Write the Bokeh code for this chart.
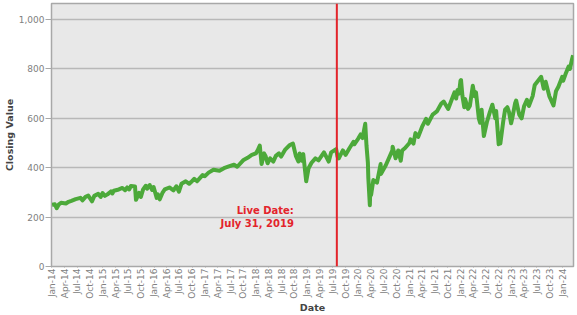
import math
import pandas as pd
from bokeh.plotting import figure
from bokeh.models import Range1d, FixedTicker, Span, Label, NumeralTickFormatter, DatetimeTickFormatter
from bokeh.embed import file_html
from bokeh.resources import INLINE

dates = [
    "2014-01-02", "2014-01-22", "2014-02-04", "2014-02-20", "2014-03-07", "2014-04-11", "2014-04-30",
    "2014-05-20", "2014-06-20", "2014-07-24", "2014-08-07", "2014-08-29", "2014-09-18", "2014-10-15",
    "2014-10-31", "2014-11-28", "2014-12-16", "2014-12-29",
    "2015-01-15", "2015-02-02", "2015-02-27", "2015-03-10", "2015-03-20", "2015-04-24", "2015-05-20",
    "2015-06-08", "2015-06-23", "2015-07-08", "2015-07-20", "2015-08-18", "2015-08-25", "2015-09-16",
    "2015-09-29", "2015-10-15", "2015-11-03", "2015-11-13", "2015-12-01", "2015-12-18", "2015-12-29",
    "2016-01-20", "2016-01-29", "2016-02-11", "2016-03-01", "2016-03-18", "2016-04-20", "2016-05-19",
    "2016-06-08", "2016-06-27", "2016-07-15", "2016-08-15", "2016-09-09", "2016-09-22", "2016-10-14",
    "2016-11-04", "2016-11-30", "2016-12-13", "2016-12-30",
    "2017-01-25", "2017-03-01", "2017-04-13", "2017-05-15", "2017-06-19", "2017-07-26", "2017-08-18",
    "2017-09-29", "2017-10-31", "2017-11-30", "2017-12-29",
    "2018-01-12", "2018-01-26", "2018-02-08", "2018-02-26", "2018-03-08", "2018-03-23", "2018-04-10",
    "2018-05-03", "2018-05-21", "2018-06-12", "2018-06-28", "2018-07-25", "2018-08-29", "2018-09-20",
    "2018-10-11", "2018-10-29", "2018-11-07", "2018-11-23", "2018-12-03", "2018-12-24",
    "2019-01-10", "2019-01-31", "2019-02-28", "2019-03-22", "2019-04-30", "2019-06-03", "2019-06-20",
    "2019-07-26", "2019-08-05", "2019-08-14", "2019-09-12", "2019-10-02", "2019-10-28", "2019-11-27",
    "2019-12-03", "2019-12-31",
    "2020-01-17", "2020-01-31", "2020-02-19", "2020-02-28", "2020-03-09", "2020-03-12", "2020-03-23",
    "2020-03-26", "2020-04-01", "2020-04-17", "2020-05-13", "2020-06-08", "2020-06-11", "2020-07-15",
    "2020-08-31", "2020-09-02", "2020-09-23", "2020-10-12", "2020-10-30", "2020-11-09", "2020-11-30",
    "2020-12-31",
    "2021-01-08", "2021-01-29", "2021-02-12", "2021-03-04", "2021-03-31", "2021-04-29", "2021-05-12",
    "2021-06-15", "2021-07-15", "2021-08-16", "2021-09-02", "2021-10-04", "2021-10-29", "2021-11-18",
    "2021-11-30", "2021-12-10", "2021-12-20", "2021-12-31",
    "2022-01-04", "2022-01-14", "2022-01-27", "2022-02-02", "2022-02-23", "2022-03-08", "2022-03-29",
    "2022-04-11", "2022-04-21", "2022-05-11", "2022-05-20", "2022-05-31", "2022-06-16", "2022-07-08",
    "2022-07-29", "2022-08-16", "2022-09-06", "2022-09-12", "2022-09-30", "2022-10-04", "2022-10-12",
    "2022-11-01", "2022-11-15", "2022-12-01", "2022-12-13", "2022-12-28",
    "2023-01-05", "2023-01-25", "2023-02-02", "2023-02-24", "2023-03-13", "2023-03-31", "2023-04-20",
    "2023-05-04", "2023-05-31", "2023-06-15", "2023-07-31", "2023-08-18", "2023-09-01", "2023-09-27",
    "2023-10-27", "2023-11-14", "2023-12-01", "2023-12-28",
    "2024-01-04", "2024-01-25", "2024-02-12", "2024-02-21", "2024-03-08", "2024-03-15",
]
closing_values = [
    250, 252, 236, 252, 258, 255, 262,
    266, 273, 278, 268, 282, 287, 264,
    286, 294, 282, 297,
    286, 292, 304, 296, 307, 312, 318,
    309, 320, 312, 326, 324, 270, 298,
    282, 312, 327, 315, 330, 310, 322,
    278, 292, 272, 298, 312, 320, 308,
    325, 303, 335, 345, 335, 342, 355,
    345, 362, 370, 366,
    380, 392, 388, 398, 405, 412, 404,
    430, 440, 452, 458,
    472, 490, 415, 458, 448, 418, 438,
    425, 448, 458, 445, 472, 492, 498,
    448, 425, 458, 428, 455, 345,
    398, 420, 438, 430, 462, 425, 462,
    475, 445, 438, 470, 452, 478, 505,
    495, 518,
    535, 520, 578, 490, 420, 360, 248,
    310, 290, 350, 340, 415, 375, 410,
    470, 485, 438, 470, 428, 470, 480,
    500,
    515, 498, 540, 525, 565, 598, 578,
    615, 628, 660, 668, 638, 675, 705,
    680, 715, 700, 752,
    755, 690, 645, 678, 638, 650, 732,
    690, 705, 600, 582, 635, 528, 585,
    625, 655, 600, 630, 495, 540, 498,
    585, 635, 645, 625, 580,
    600, 660, 672, 615, 600, 650, 675,
    650, 690, 735, 768, 720, 748, 690,
    652, 710, 728, 768,
    752, 785, 810, 800, 840, 855,
]
x_tick_labels = [
    "Jan-14", "Apr-14", "Jul-14", "Oct-14", "Jan-15", "Apr-15", "Jul-15", "Oct-15",
    "Jan-16", "Apr-16", "Jul-16", "Oct-16", "Jan-17", "Apr-17", "Jul-17", "Oct-17",
    "Jan-18", "Apr-18", "Jul-18", "Oct-18", "Jan-19", "Apr-19", "Jul-19", "Oct-19",
    "Jan-20", "Apr-20", "Jul-20", "Oct-20", "Jan-21", "Apr-21", "Jul-21", "Oct-21",
    "Jan-22", "Apr-22", "Jul-22", "Oct-22", "Jan-23", "Apr-23", "Jul-23", "Oct-23",
    "Jan-24",
]
y_ticks = [0, 200, 400, 600, 800, 1000]
live_date = "2019-07-31"
live_label = "Live Date:\nJuly 31, 2019"
live_label_value = 152


def ms(d):
    return pd.Timestamp(d).timestamp() * 1000.0


x = [pd.Timestamp(d) for d in dates]
tick_ms = [pd.Timestamp(pd.to_datetime(t, format="%b-%y")).timestamp() * 1000.0 for t in x_tick_labels]

p = figure(
    width=577, height=315, x_axis_type="datetime", output_backend="svg", toolbar_location=None,
    x_range=Range1d(ms("2013-12-29"), ms("2024-03-18")), y_range=Range1d(0, 1065),
)
p.background_fill_color = "#e8e8e8"
p.border_fill_color = "white"
p.outline_line_color = "#a8a8a8"
p.outline_line_width = 1.5
p.min_border_top = 3
p.min_border_right = 4
p.min_border_left = 51
p.min_border_bottom = 49

p.xgrid.visible = False
p.ygrid.grid_line_color = "#b8b8b8"
p.ygrid.grid_line_width = 1.5

FONT = "DejaVu Sans"

ya = p.yaxis[0]
ya.ticker = FixedTicker(ticks=y_ticks)
ya.formatter = NumeralTickFormatter(format="0,0")
ya.major_label_text_font = FONT
ya.major_label_text_font_size = "9px"
ya.major_label_text_color = "#808080"
ya.major_tick_out = 6
ya.major_tick_in = 0
ya.minor_tick_out = 0
ya.minor_tick_in = 0
ya.axis_line_color = "#a8a8a8"
ya.major_tick_line_color = "#a8a8a8"
ya.axis_label = "Closing Value"
ya.axis_label_text_font = FONT
ya.axis_label_text_font_style = "bold"
ya.axis_label_text_font_size = "9.5px"
ya.axis_label_standoff = 1
ya.major_label_standoff = 1

xa = p.xaxis[0]
xa.ticker = FixedTicker(ticks=tick_ms)
fmt = "%b-%y"
xa.formatter = DatetimeTickFormatter(
    milliseconds=fmt, seconds=fmt, minsec=fmt, minutes=fmt, hourmin=fmt, hours=fmt,
    days=fmt, months=fmt, years=fmt,
)
xa.major_label_orientation = math.pi / 2
xa.major_label_text_font = FONT
xa.major_label_text_font_size = "9px"
xa.major_label_text_color = "#808080"
xa.major_tick_out = 1
xa.major_tick_in = 0
xa.minor_tick_out = 0
xa.minor_tick_in = 0
xa.axis_line_color = "#a8a8a8"
xa.major_tick_line_color = "#a8a8a8"
xa.axis_label = "Date"
xa.axis_label_text_font = FONT
xa.axis_label_text_font_style = "bold"
xa.axis_label_text_font_size = "9.5px"
xa.axis_label_standoff = 0
xa.major_label_standoff = 1

p.line(x, closing_values, line_width=4, line_color="#4ca93a", line_join="round")

p.add_layout(Span(location=ms(live_date), dimension="height", line_color="#e3242b", line_width=2))
p.add_layout(Label(
    x=ms(live_date), y=live_label_value, text=live_label, x_offset=-43,
    text_align="right", text_baseline="bottom", text_color="#e3242b",
    text_font=FONT, text_font_style="bold", text_font_size="10px", text_line_height=1.15,
))

open("out.html", "w").write(file_html(p, INLINE))
